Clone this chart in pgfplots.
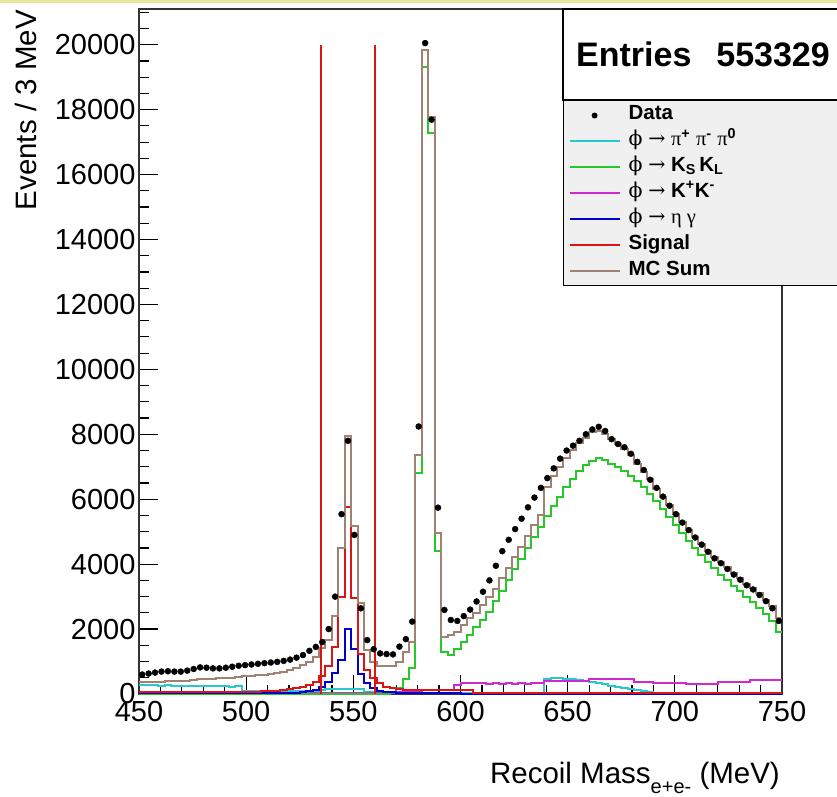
\documentclass[border=0pt]{standalone}
\usepackage{fontspec}
\setmainfont{Liberation Sans}
\newfontfamily\grk{Liberation Serif}
\newfontfamily\phif{DejaVu Serif}
\usepackage{pgfplots}
\pgfplotsset{compat=1.18}
\usepackage{pgfplotstable}

\definecolor{hcyan}{RGB}{40,200,210}
\definecolor{hgreen}{RGB}{40,200,40}
\definecolor{hmag}{RGB}{210,40,210}
\definecolor{hblue}{RGB}{0,0,210}
\definecolor{hred}{RGB}{220,20,20}
\definecolor{hbrown}{RGB}{160,130,115}
\definecolor{band}{RGB}{236,228,160}

\newcommand\gk[1]{{\mdseries\grk #1}}
\newcommand\ph{{\mdseries\phif ϕ}}
\newcommand\ar{{\mdseries\phif →}}

% MC histograms, 3 MeV bins, x = left bin edge
\pgfplotstableread{
x cy gr mg bl rd br
450 270 0 40 20 50 370
453 280 0 40 20 50 375
456 270 0 40 20 50 380
459 260 0 40 20 50 385
462 270 0 40 20 50 390
465 260 0 40 20 50 395
468 250 0 40 20 50 400
471 260 0 40 20 50 410
474 250 0 40 20 60 430
477 250 0 40 20 60 450
480 240 0 40 20 60 460
483 250 0 40 20 60 470
486 240 0 40 20 60 480
489 240 0 40 20 60 490
492 230 0 40 20 60 500
495 240 0 40 20 60 520
498 100 0 40 20 60 540
501 80 0 40 20 60 560
504 80 0 40 20 70 580
507 80 0 40 20 80 600
510 80 0 40 20 90 620
513 80 0 40 20 100 650
516 80 0 40 20 120 690
519 80 0 40 20 150 740
522 80 0 40 40 180 800
525 80 0 40 60 220 880
528 80 0 40 80 280 1000
531 80 0 40 130 370 1150
534 120 0 40 225 560 1410
537 150 0 40 380 850 1660
540 150 0 40 637 1450 2390
543 150 0 40 1047 3000 4500
546 150 0 40 1993 5750 7950
549 150 0 40 1377 2950 5180
552 150 0 40 616 1230 2800
555 60 0 40 330 740 1350
558 60 0 40 175 490 1000
561 60 0 40 100 330 870
564 60 0 40 70 220 850
567 60 50 40 50 170 850
570 30 200 60 40 140 1000
573 30 450 60 30 130 1300
576 30 800 60 30 130 1600
579 30 6800 60 30 130 7370
582 30 19300 120 30 130 19850
585 30 17280 120 30 130 17780
588 30 4400 120 30 130 4950
591 30 1300 120 30 130 1770
594 30 1200 120 30 130 1817
597 30 1400 280 30 130 1920
600 30 1600 350 10 130 2125
603 30 1830 350 10 130 2330
606 30 2050 330 10 20 2486
609 30 2280 330 10 20 2741
612 30 2520 320 0 20 2997
615 30 2850 330 0 20 3230
618 30 3180 310 0 20 3560
621 30 3510 340 0 20 3890
624 30 3840 320 0 20 4220
627 30 4170 330 0 20 4540
630 30 4500 320 0 20 4880
633 30 4830 340 0 20 5200
636 30 5150 330 0 20 5520
639 470 5470 400 0 20 6380
642 480 5780 400 0 20 6700
645 480 6080 400 0 20 7000
648 470 6370 400 0 20 7280
651 460 6630 400 0 20 7530
654 440 6860 400 0 20 7740
657 410 7050 400 0 20 7900
660 380 7190 470 0 20 8060
663 340 7260 470 0 20 8090
666 300 7220 470 0 20 8010
669 260 7100 470 0 20 7850
672 220 7000 470 0 20 7710
675 180 6880 470 0 20 7550
678 140 6730 470 0 20 7360
681 110 6560 380 0 20 7070
684 80 6370 380 0 20 6850
687 60 6160 380 0 20 6620
690 40 5940 330 0 20 6330
693 25 5700 330 0 20 6075
696 15 5450 330 0 20 5815
699 10 5200 330 0 20 5560
702 0 4950 330 0 20 5300
705 0 4720 305 0 20 5045
708 0 4500 305 0 20 4825
711 0 4290 305 0 20 4615
714 0 4080 305 0 20 4405
717 0 3880 305 0 20 4205
720 0 3680 380 0 20 4080
723 0 3500 380 0 20 3900
726 0 3330 380 0 20 3730
729 0 3170 380 0 20 3570
732 0 3000 380 0 20 3400
735 0 2830 430 0 20 3280
738 0 2650 430 0 20 3100
741 0 2450 430 0 20 2900
744 0 2250 430 0 20 2700
747 0 1900 430 0 20 2350
750 0 1900 430 0 20 2350
}\mctab

% data, bin centres
\pgfplotstableread{
x y
451.5 600
454.5 630
457.5 660
460.5 690
463.5 700
466.5 690
469.5 690
472.5 720
475.5 770
478.5 820
481.5 810
484.5 790
487.5 790
490.5 810
493.5 840
496.5 870
499.5 890
502.5 910
505.5 930
508.5 950
511.5 970
514.5 990
517.5 1020
520.5 1060
523.5 1120
526.5 1200
529.5 1330
532.5 1450
535.5 1600
538.5 2000
541.5 3000
544.5 5540
547.5 7800
550.5 4900
553.5 2640
556.5 1660
559.5 1380
562.5 1250
565.5 1230
568.5 1220
571.5 1460
574.5 1690
577.5 2230
580.5 8240
583.5 20050
586.5 17690
589.5 5740
592.5 2590
595.5 2280
598.5 2250
601.5 2400
604.5 2600
607.5 2850
610.5 3150
613.5 3500
616.5 3950
619.5 4400
622.5 4750
625.5 5080
628.5 5400
631.5 5750
634.5 6050
637.5 6350
640.5 6650
643.5 6950
646.5 7250
649.5 7500
652.5 7650
655.5 7800
658.5 8000
661.5 8150
664.5 8230
667.5 8100
670.5 7850
673.5 7700
676.5 7600
679.5 7400
682.5 7150
685.5 6900
688.5 6600
691.5 6350
694.5 6080
697.5 5800
700.5 5540
703.5 5280
706.5 5050
709.5 4820
712.5 4600
715.5 4380
718.5 4180
721.5 4030
724.5 3850
727.5 3680
730.5 3520
733.5 3350
736.5 3220
739.5 3050
742.5 2860
745.5 2640
748.5 2250
}\datatab

\begin{document}
\begin{tikzpicture}
\useasboundingbox (-139pt,-102pt) rectangle (698pt,694pt);
\fill[band] (-139pt,690.5pt) rectangle (698pt,694pt);
\begin{axis}[
  at={(0,0)}, anchor=south west,
  width=643pt, height=685pt, scale only axis,
  xmin=450, xmax=750, ymin=0, ymax=21100,
  xtick={450,500,...,750}, ytick={0,2000,...,20000},
  minor xtick={450,460,...,750}, minor ytick={0,500,...,21000},
  tick align=inside, xtick pos=left, ytick pos=left,
  major tick length=19pt, minor tick length=9.5pt,
  tick style={black, line width=1.2pt},
  axis line style={black!80, line width=1.3pt},
  scaled y ticks=false,
  /pgf/number format/1000 sep={},
  /pgf/number format/assume math mode=true,
  tick label style={font=\fontsize{29}{29}\selectfont},
  xticklabel style={yshift=-4pt},
  legend image code/.code={\draw[#1] (0pt,0pt) -- (50pt,0pt);},
  legend cell align=left,
  legend style={at={(0.6594,0.8672)}, anchor=north west,
    fill=black!6, draw=black, line width=1.2pt,
    font=\bfseries\fontsize{20.5}{24}\selectfont,
    inner xsep=5pt, inner ysep=2pt, row sep=0pt,
    /tikz/every odd column/.append style={column sep=6pt},
    nodes={text height=14pt, text depth=5.5pt, inner ysep=3.2pt}},
]
\addlegendimage{black, legend image code/.code={\path[draw=none] (0pt,0pt) -- (50pt,0pt); \fill[black, draw=none] (25pt,0pt) circle[radius=3pt];}}
\addlegendentry{Data}
\addlegendimage{hcyan, line width=2pt}
\addlegendentry{\ph\ \ar\ \gk{π}\textsuperscript{+} \gk{π}\textsuperscript{-} \gk{π}\textsuperscript{0}}
\addlegendimage{hgreen, line width=2pt}
\addlegendentry{\ph\ \ar\ K\textsubscript{S}\,K\textsubscript{L}}
\addlegendimage{hmag, line width=2pt}
\addlegendentry{\ph\ \ar\ K\textsuperscript{+}K\textsuperscript{-}}
\addlegendimage{hblue, line width=2pt}
\addlegendentry{\ph\ \ar\ \gk{η γ}}
\addlegendimage{hred, line width=2pt}
\addlegendentry{Signal}
\addlegendimage{hbrown, line width=2pt}
\addlegendentry{MC Sum\hspace*{150pt}}

\addplot[forget plot, const plot, hcyan, line width=2pt] table[x=x, y=cy]{\mctab};
\addplot[forget plot, const plot, hmag, line width=2pt] table[x=x, y=mg]{\mctab};
\addplot[forget plot, const plot, hgreen, line width=2pt] table[x=x, y=gr]{\mctab};
\addplot[forget plot, const plot, hblue, line width=2pt] table[x=x, y=bl]{\mctab};
\addplot[forget plot, const plot, hred, line width=2pt] table[x=x, y=rd]{\mctab};
\addplot[forget plot, const plot, hbrown, line width=2pt] table[x=x, y=br]{\mctab};
\addplot[forget plot, hred, line width=2.2pt] coordinates {(535,0) (535,20000)};
\addplot[forget plot, hred, line width=2.2pt] coordinates {(560,0) (560,20000)};
\addplot[forget plot, only marks, mark=*, mark size=3pt, black] table[x=x, y=y]{\datatab};
\end{axis}
\draw[black, line width=1.2pt, fill=white] (424pt,594pt) rectangle (760pt,685pt);
\node[anchor=base west, inner sep=0pt, font=\bfseries\fontsize{34}{34}\selectfont] at (437pt,627pt) {Entries};
\node[anchor=base east, inner sep=0pt, font=\bfseries\fontsize{34}{34}\selectfont] at (691pt,627pt) {553329};
\node[rotate=90, anchor=base east, inner sep=0pt, font=\fontsize{29.5}{30}\selectfont] at (-102pt,684pt) {Events / 3 MeV};
\node[anchor=base east, inner sep=0pt, font=\fontsize{29.5}{30}\selectfont] at (641pt,-89pt) {Recoil Mass\raisebox{-10pt}{\fontsize{20}{20}\selectfont e+e-} (MeV)};
\end{tikzpicture}
\end{document}
